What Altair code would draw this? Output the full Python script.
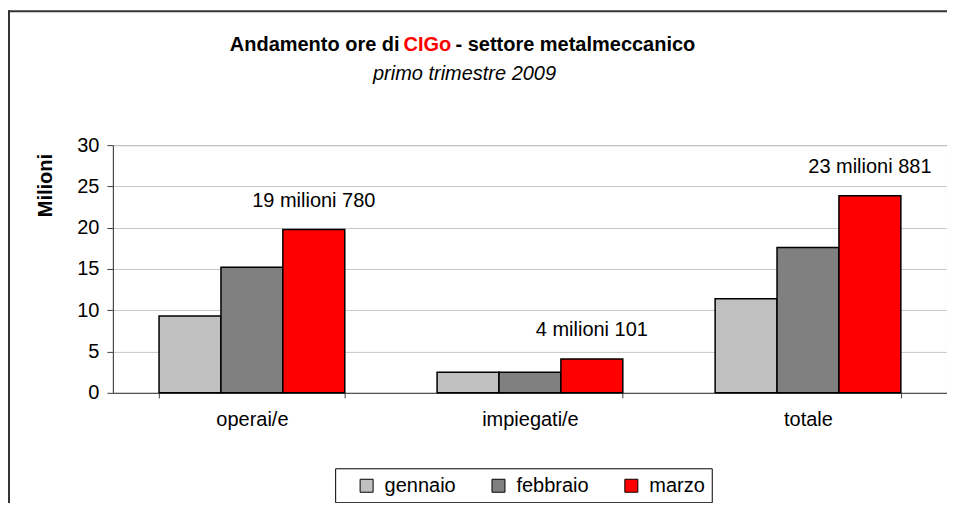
import altair as alt
import pandas as pd

# ---- data ----
categories = ["operai/e", "impiegati/e", "totale"]
months = ["gennaio", "febbraio", "marzo"]
gennaio = [9.3, 2.5, 11.4]
febbraio = [15.2, 2.5, 17.6]
marzo = [19.78, 4.101, 23.881]
marzo_labels = ["19 milioni 780", "4 milioni 101", "23 milioni 881"]
month_colors = ["#C0C0C0", "#808080", "#FF0000"]
y_ticks = [0, 5, 10, 15, 20, 25, 30]

title_a = "Andamento ore di"
title_b = "CIGo"
title_c = "- settore metalmeccanico"
subtitle = "primo trimestre 2009"
y_title = "Milioni"

FONT = "Liberation Sans"

rows = []
for series, name in zip([gennaio, febbraio, marzo], months):
    for cat, v in zip(categories, series):
        rows.append({"categoria": cat, "mese": name, "valore": v})
df = pd.DataFrame(rows)
lab_df = pd.DataFrame({"categoria": categories, "mese": ["marzo"] * 3,
                       "valore": marzo, "etichetta": marzo_labels})

W, H = 835, 248

x_enc = alt.X("categoria:N", sort=categories, title=None,
              scale=alt.Scale(paddingInner=0.332, paddingOuter=0.166),
              axis=alt.Axis(labelAngle=0, tickBand="extent", tickSize=5,
                            labelPadding=12, domainColor="#404040",
                            tickColor="#404040", grid=False,
                            labelFontSize=20, labelFont=FONT, labelColor="black"))
xo_enc = alt.XOffset("mese:N", sort=months,
                     scale=alt.Scale(domain=months, paddingInner=0, paddingOuter=0))
y_enc = alt.Y("valore:Q", scale=alt.Scale(domain=[0, 30], nice=False),
              axis=alt.Axis(values=y_ticks, title=y_title, titleAngle=270,
                            titleX=-67, titleY=40, titleAlign="center",
                            titleBaseline="middle", titleFontSize=20,
                            titleFontWeight="bold", titleFont=FONT,
                            titleColor="black",
                            tickSize=6, labelPadding=8, domainColor="#404040",
                            tickColor="#404040", gridColor="#C8C8C8",
                            labelFontSize=20, labelFont=FONT, labelColor="black"))

bars = alt.Chart(df).mark_bar(stroke="black", strokeWidth=1.5).encode(
    x=x_enc, xOffset=xo_enc, y=y_enc,
    color=alt.Color("mese:N", sort=months,
                    scale=alt.Scale(domain=months, range=month_colors),
                    legend=alt.Legend(title=None, orient="none", direction="horizontal",
                                      legendX=244, legendY=331, symbolType="square",
                                      symbolSize=169, symbolStrokeColor="black",
                                      symbolStrokeWidth=1, labelFontSize=20,
                                      labelFont=FONT, labelOffset=8,
                                      columnPadding=32, labelColor="black")),
)

labels = alt.Chart(lab_df).mark_text(dy=-29, fontSize=20, font=FONT, color="black",
                                     baseline="middle").encode(
    x=alt.X("categoria:N", sort=categories), xOffset=alt.XOffset("mese:N", sort=months),
    y="valore:Q", text="etichetta:N")

def txt(s, x, y, **kw):
    return alt.Chart(pd.DataFrame({"t": [s]})).mark_text(font=FONT, fontSize=20,
                                                         baseline="middle", **kw).encode(
        text="t:N", x=alt.value(x), y=alt.value(y))

t1 = txt(title_a, 287, -100, align="right", fontWeight="bold", color="black")
t2 = txt(title_b, 291, -100, align="left", fontWeight="bold", color="#FF0000")
t3 = txt(title_c, 343, -100, align="left", fontWeight="bold", color="black")
t4 = txt(subtitle, 352, -71, align="center", fontStyle="italic", color="black")

legend_box = alt.Chart(pd.DataFrame({"a": [0]})).mark_rect(
    fill="white", fillOpacity=0, stroke="black", strokeWidth=1).encode(
    x=alt.value(223), x2=alt.value(600), y=alt.value(324), y2=alt.value(358))

one = pd.DataFrame({"a": [0]})
frame_left = alt.Chart(one).mark_rule(stroke="#333333", strokeWidth=2).encode(
    x=alt.value(-104), y=alt.value(-135), y2=alt.value(400))
frame_top = alt.Chart(one).mark_rule(stroke="#333333", strokeWidth=2).encode(
    x=alt.value(-105), x2=alt.value(836), y=alt.value(-134))

chart = alt.layer(frame_left, frame_top, bars, labels, t1, t2, t3, t4, legend_box).properties(
    width=W, height=H,
    autosize=alt.AutoSizeParams(type="none"),
    padding={"left": 105, "top": 137, "right": 0, "bottom": 110},
).configure(background="white").configure_view(stroke="#808080")

chart.save("out.html", embed_options={"renderer": "svg", "actions": False})
